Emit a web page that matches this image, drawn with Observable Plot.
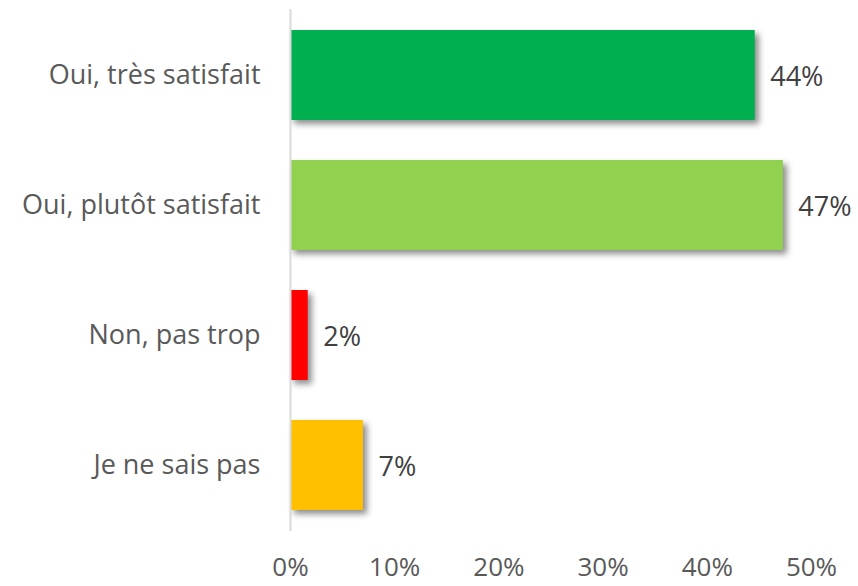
<!DOCTYPE html>
<html>
<head>
<meta charset="utf-8">
<script src="https://cdn.jsdelivr.net/npm/d3@7"></script>
<script src="https://cdn.jsdelivr.net/npm/@observablehq/plot@0.6"></script>
<style>
  body { margin: 0; background: #fff; }
  #chart svg { display: block; }
</style>
</head>
<body>
<div id="chart"></div>
<script>
const categories = ["Oui, très satisfait", "Oui, plutôt satisfait", "Non, pas trop", "Je ne sais pas"];
const values = [44.6, 47.3, 1.7, 7.0];
const valueLabels = ["44%", "47%", "2%", "7%"];
const colors = ["#00b050", "#92d050", "#ff0000", "#ffc000"];
const xTicks = [0, 10, 20, 30, 40, 50];

const data = categories.map((c, i) => ({cat: c, value: values[i], label: valueLabels[i], color: colors[i]}));

const FS = 27;
const chart = Plot.plot({
  width: 858,
  height: 586,
  marginLeft: 290,
  marginRight: 47,
  marginTop: 9,
  marginBottom: 55,
  style: {fontFamily: "'Open Sans', sans-serif", fontSize: FS + "px", color: "#595959", background: "#fff"},
  x: {domain: [0, 50], label: null},
  y: {domain: categories, paddingInner: 0.31, paddingOuter: 0.155, label: null},
  marks: [
    Plot.barX(data, {x: "value", y: "cat", fill: "color"}),
    Plot.ruleX([0], {stroke: "#d9d9d9", strokeWidth: 2}),
    Plot.axisX({ticks: xTicks, tickFormat: d => d + "%", tickSize: 0, tickPadding: 26, fontSize: 26, fill: "#595959", label: null}),
    Plot.axisY({tickSize: 0, tickPadding: 30, fontSize: FS, fill: "#595959", label: null}),
    Plot.text(data, {x: "value", y: "cat", text: "label", textAnchor: "start", dx: 15, dy: 2, fill: "#404040", fontSize: FS})
  ]
});
const bars = chart.querySelector('g[aria-label="bar"]');
if (bars) bars.style.filter = "drop-shadow(4px 4px 3px rgba(0,0,0,0.45))";
document.getElementById("chart").appendChild(chart);
</script>
</body>
</html>
